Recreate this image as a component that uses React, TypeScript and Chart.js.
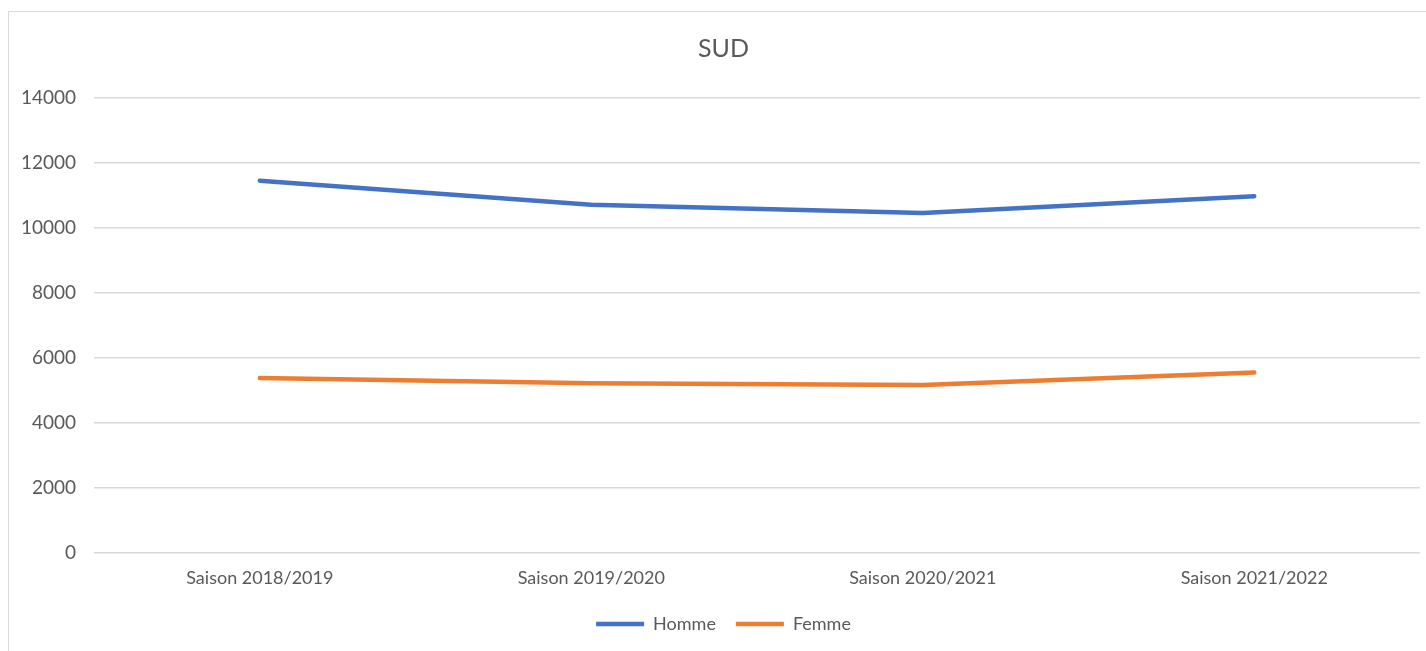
import React, { useEffect, useRef } from "react";
import { Chart, registerables } from "chart.js";

Chart.register(...registerables);

const categories = ["Saison 2018/2019", "Saison 2019/2020", "Saison 2020/2021", "Saison 2021/2022"];
const homme = [11450, 10710, 10460, 10975];
const femme = [5375, 5215, 5160, 5540];
const yTicks = [0, 2000, 4000, 6000, 8000, 10000, 12000, 14000];

const FONT = "Lato, 'Open Sans', sans-serif";
const TEXT = "#595959";

export default function App() {
  const ref = useRef<HTMLCanvasElement | null>(null);
  useEffect(() => {
    document.body.style.overflow = "hidden";
    if (!ref.current) return;
    const chart = new Chart(ref.current, {
      type: "line",
      data: {
        labels: categories,
        datasets: [
          {
            label: "Homme",
            data: homme,
            borderColor: "#4472C4",
            backgroundColor: "#4472C4",
            borderWidth: 4.5,
            borderCapStyle: "round",
            borderJoinStyle: "round",
            pointRadius: 0,
            pointStyle: "line",
            tension: 0,
          },
          {
            label: "Femme",
            data: femme,
            borderColor: "#ED7D31",
            backgroundColor: "#ED7D31",
            borderWidth: 4.5,
            borderCapStyle: "round",
            borderJoinStyle: "round",
            pointRadius: 0,
            pointStyle: "line",
            tension: 0,
          },
        ],
      },
      options: {
        animation: false,
        responsive: false,
        maintainAspectRatio: false,
        layout: { padding: { left: -6, right: 0, top: 1, bottom: 7 } },
        plugins: {
          title: {
            display: true,
            text: "SUD",
            color: TEXT,
            font: { family: FONT, size: 25, weight: "normal" },
            padding: { top: 21, bottom: 34 },
          },
          legend: {
            position: "bottom",
            labels: {
              usePointStyle: true,
              pointStyleWidth: 48,
              color: TEXT,
              font: { family: FONT, size: 18 },
              padding: 20,
            },
          },
          tooltip: { enabled: false },
        },
        scales: {
          x: {
            offset: true,
            grid: { display: false, drawTicks: false },
            border: { display: false },
            ticks: { color: TEXT, font: { family: FONT, size: 18 }, padding: 15, maxRotation: 0 },
            afterFit: (s: any) => {
              s.height -= 9;
            },
          },
          y: {
            min: 0,
            max: 14000,
            afterBuildTicks: (scale: any) => {
              scale.ticks = yTicks.map((v) => ({ value: v }));
            },
            grid: { color: "#d9d9d9", lineWidth: 1.5, drawTicks: false },
            border: { display: false },
            ticks: {
              color: TEXT,
              font: { family: FONT, size: 19 },
              padding: 18,
              callback: (v: any) => String(v),
            },
          },
          yRight: {
            position: "right",
            display: true,
            grid: { display: false, drawTicks: false },
            border: { display: false },
            ticks: { display: false },
            afterFit: (s: any) => {
              s.width = 24;
            },
          },
        },
      },
    });
    return () => chart.destroy();
  }, []);
  return (
    <div
      style={{
        position: "absolute",
        left: 8,
        top: 11,
        width: 1437,
        height: 660,
        border: "1px solid #d9d9d9",
        boxSizing: "border-box",
        background: "#fff",
        overflow: "hidden",
      }}
    >
      <canvas ref={ref} width={1435} height={638} style={{ display: "block" }} />
    </div>
  );
}
